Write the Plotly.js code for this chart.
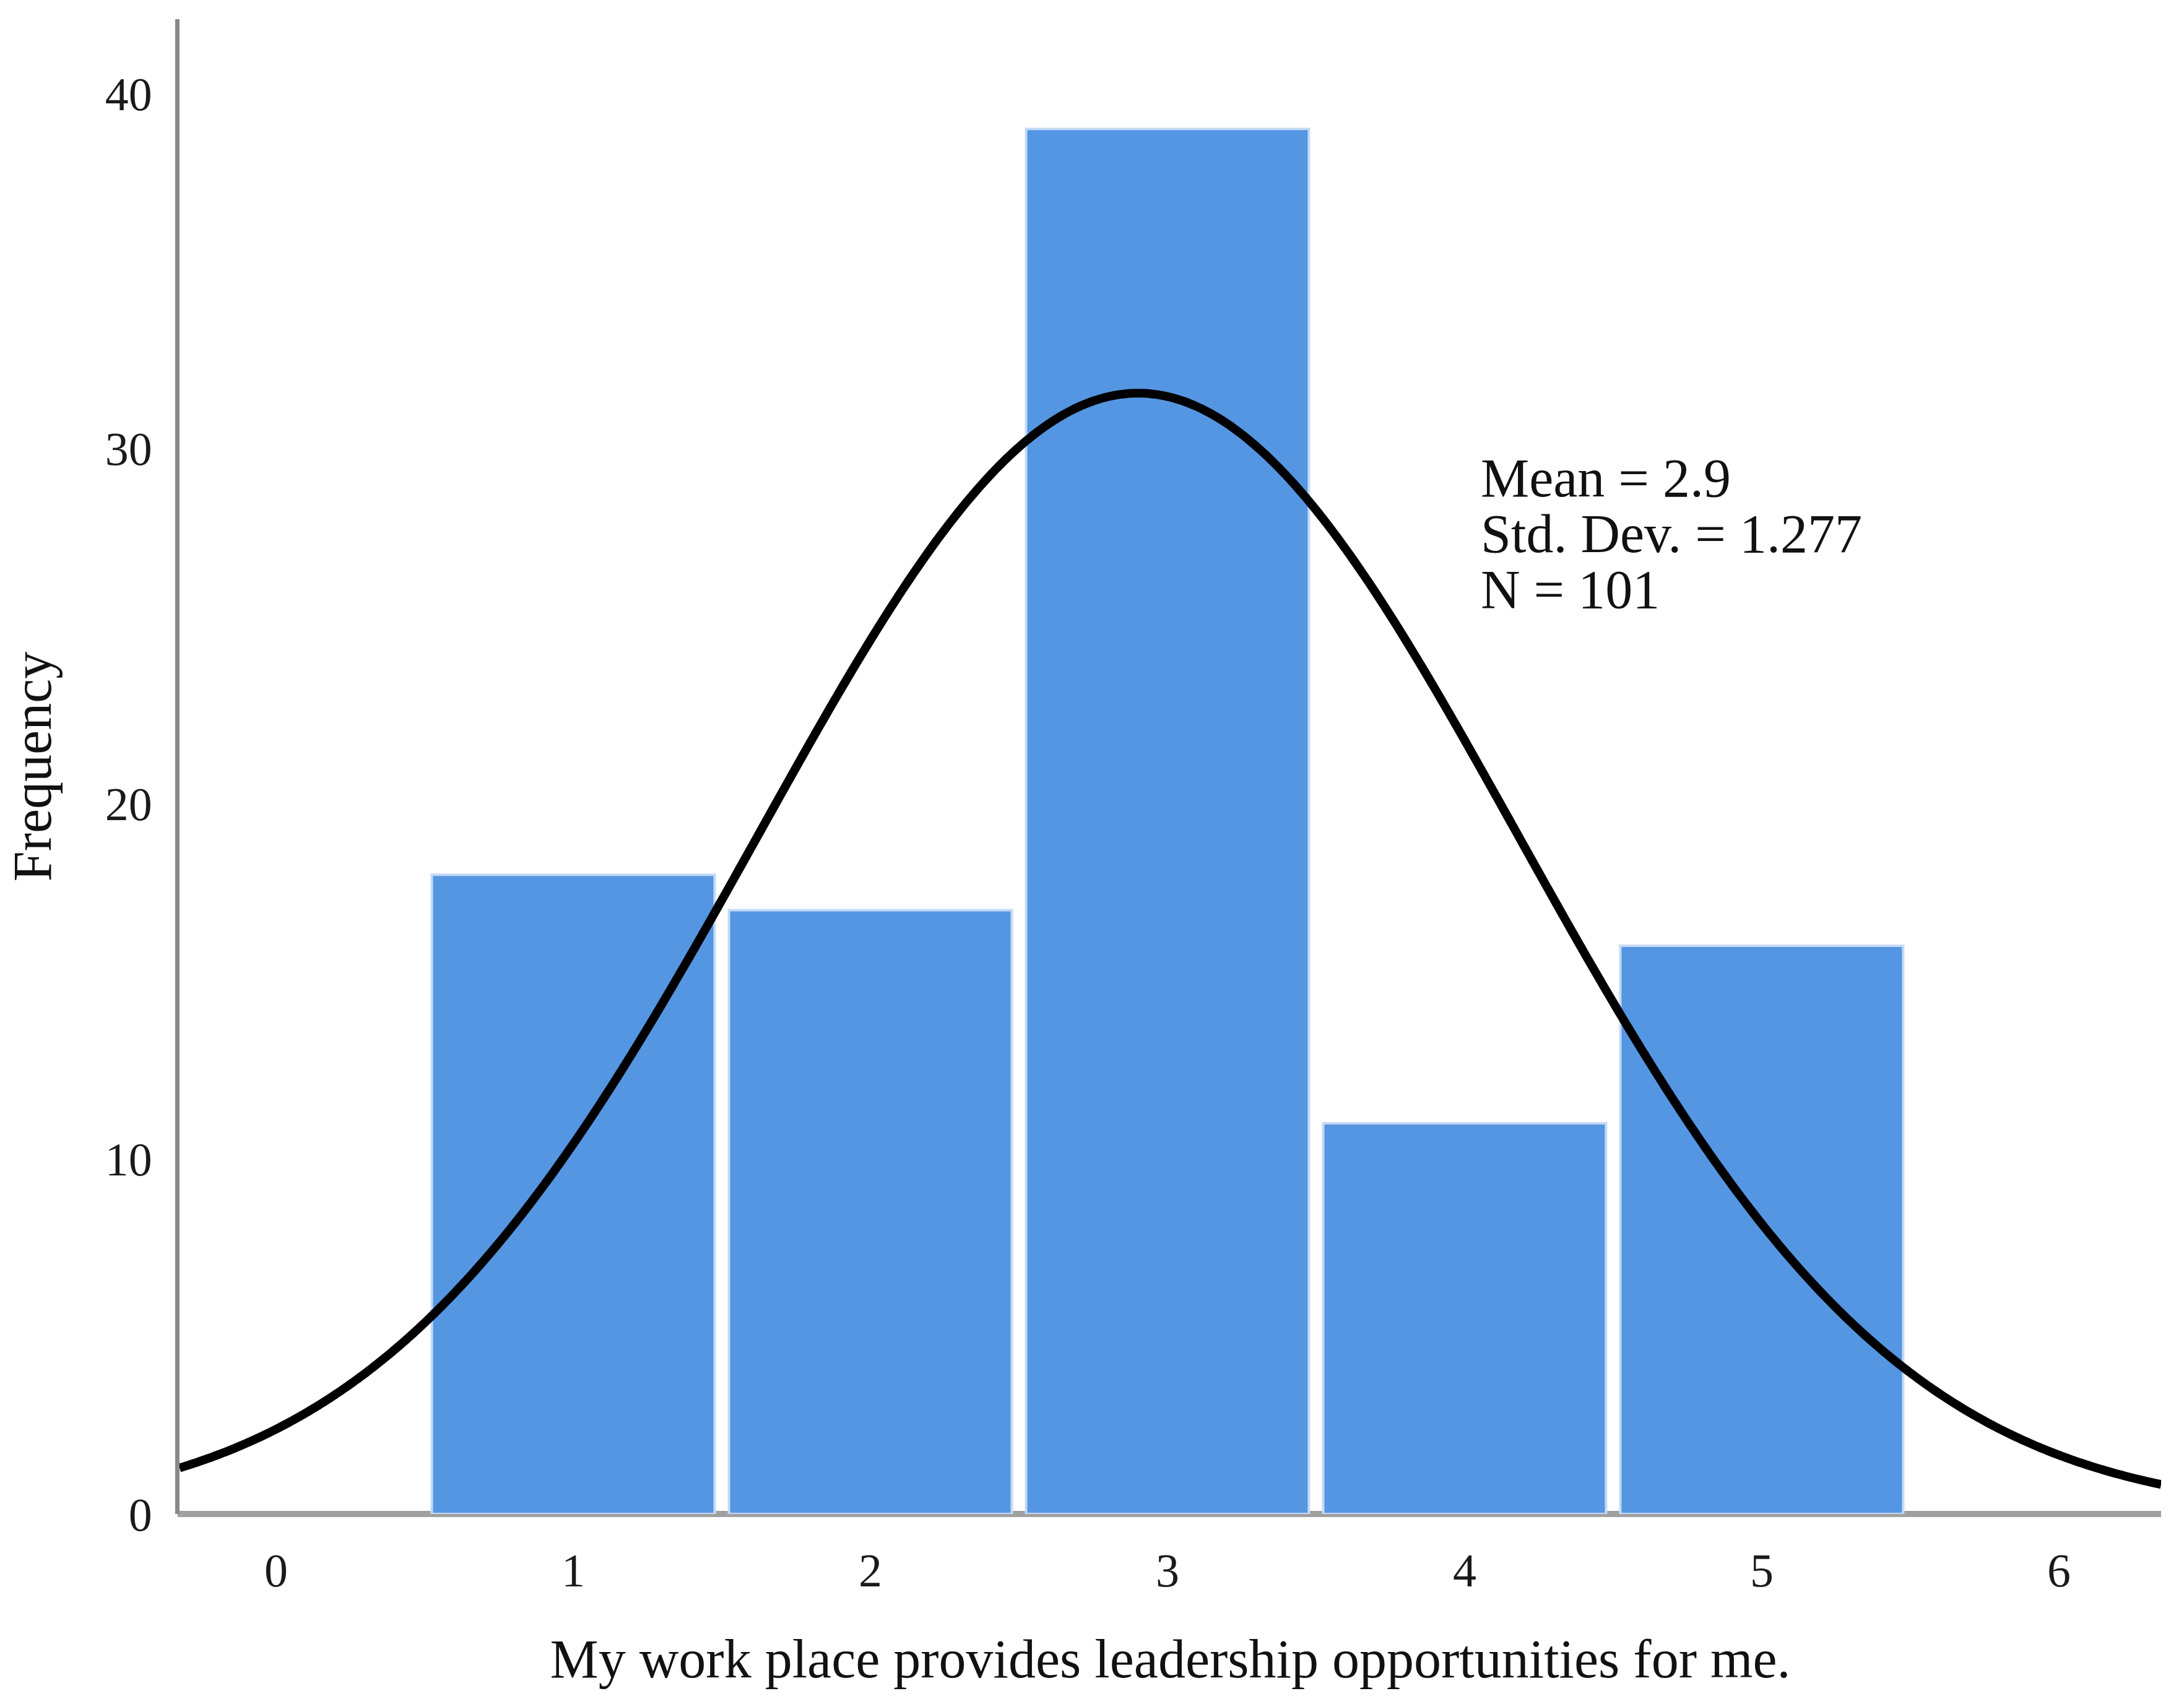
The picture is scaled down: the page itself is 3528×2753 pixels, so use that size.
<!DOCTYPE html>
<html>
<head>
<meta charset="utf-8">
<script src="https://cdn.plot.ly/plotly-3.0.1.min.js"></script>
<style>html,body{margin:0;padding:0;background:#fff;}#chart{width:3528px;height:2753px;}</style>
</head>
<body>
<div id="chart"></div>
<script>
// Histogram data
const categories = [1, 2, 3, 4, 5];
const frequencies = [18, 17, 39, 11, 16];
const xTicks = [0, 1, 2, 3, 4, 5, 6];
const yTicks = [0, 10, 20, 30, 40];
const statLabels = ["Mean = 2.9", "Std. Dev. = 1.277", "N = 101"];
const xTitle = "My work place provides leadership opportunities for me.";
const yTitle = "Frequency";

// Normal curve fitted to the histogram data (as SPSS draws it)
const N = frequencies.reduce((a, b) => a + b, 0);
const mean = categories.reduce((s, c, i) => s + c * frequencies[i], 0) / N;
const variance = categories.reduce((s, c, i) => s + frequencies[i] * (c - mean) ** 2, 0) / (N - 1);
const sd = Math.sqrt(variance);
const binWidth = 1;
const xRange = [-0.325, 6.344];
const curveX = [];
const curveY = [];
for (let k = 0; k <= 400; k++) {
  const x = xRange[0] + (xRange[1] - xRange[0]) * k / 400;
  curveX.push(x);
  curveY.push(N * binWidth * Math.exp(-0.5 * ((x - mean) / sd) ** 2) / (sd * Math.sqrt(2 * Math.PI)));
}

const font = "Liberation Serif, Times New Roman, serif";

const traces = [
  {
    type: "bar",
    x: categories,
    y: frequencies,
    width: 0.952,
    marker: { color: "#5596e3", line: { color: "#c4daf5", width: 4 } },
    hoverinfo: "skip"
  },
  {
    type: "scatter",
    mode: "lines",
    x: curveX,
    y: curveY,
    line: { color: "#000000", width: 14, shape: "spline" },
    hoverinfo: "skip"
  }
];

const statY = [29.17, 27.6, 26.03];
const annotations = statLabels.map((t, i) => ({
  x: 4.05, y: statY[i], xref: "x", yref: "y",
  xanchor: "left", yanchor: "middle",
  text: t, showarrow: false,
  font: { family: font, size: 88, color: "#111111" }
}));

const layout = {
  width: 3528,
  height: 2753,
  paper_bgcolor: "#ffffff",
  plot_bgcolor: "#ffffff",
  showlegend: false,
  margin: { l: 290, r: 37, t: 31, b: 307, pad: 0 },
  bargap: 0,
  xaxis: {
    range: xRange,
    tickvals: xTicks,
    ticktext: xTicks.map(String),
    showgrid: false,
    zeroline: false,
    showline: false,
    ticks: "",
    ticklabelstandoff: 40,
    tickfont: { family: font, size: 76, color: "#1a1a1a" },
    title: { text: xTitle, font: { family: font, size: 88, color: "#111111" }, standoff: 70 }
  },
  yaxis: {
    range: [0, 42.09],
    tickvals: yTicks,
    ticktext: yTicks.map(String),
    showgrid: false,
    zeroline: false,
    showline: true,
    linecolor: "#888888",
    linewidth: 7,
    ticks: "",
    ticklabelstandoff: 22,
    tickfont: { family: font, size: 76, color: "#1a1a1a" },
    title: { text: yTitle, font: { family: font, size: 88, color: "#111111" }, standoff: 60 }
  },
  shapes: [
    {
      type: "line", xref: "paper", yref: "paper",
      x0: -0.001, x1: 1, y0: 0, y1: 0,
      line: { color: "#a0a0a0", width: 10 },
      layer: "below"
    }
  ],
  annotations: annotations
};

Plotly.newPlot("chart", traces, layout, { staticPlot: true, displayModeBar: false });
</script>
</body>
</html>
